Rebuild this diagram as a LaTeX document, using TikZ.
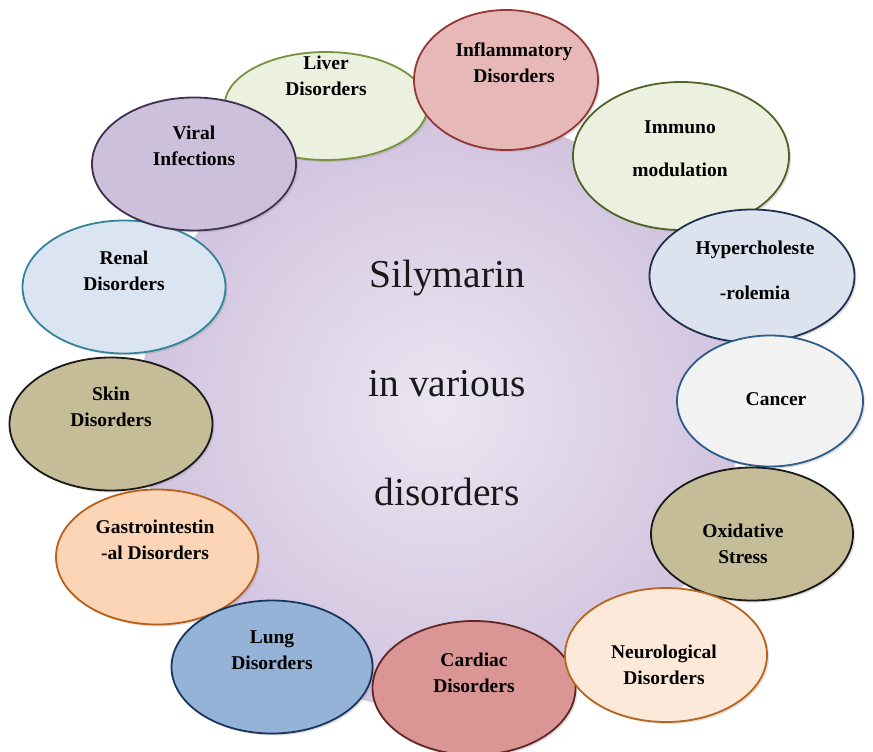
\documentclass[tikz,border=0pt]{standalone}
\usepackage{fontspec}
\setmainfont{Liberation Serif}
\usetikzlibrary{shapes.geometric,shadows}
\definecolor{liverF}{HTML}{EBF1DE}\definecolor{liverD}{HTML}{77933C}
\definecolor{inflF}{HTML}{E6B9B8}\definecolor{inflD}{HTML}{953735}
\definecolor{immF}{HTML}{EBF1DE}\definecolor{immD}{HTML}{4F6228}
\definecolor{hypF}{HTML}{DCE3EE}\definecolor{hypD}{HTML}{1F3150}
\definecolor{canF}{HTML}{F2F2F2}\definecolor{canD}{HTML}{2E5C8A}
\definecolor{oxiF}{HTML}{C4BD97}\definecolor{oxiD}{HTML}{1A1A1A}
\definecolor{neuF}{HTML}{FDE9D9}\definecolor{neuD}{HTML}{B7651E}
\definecolor{carF}{HTML}{D99694}\definecolor{carD}{HTML}{632523}
\definecolor{lunF}{HTML}{95B3D7}\definecolor{lunD}{HTML}{17375E}
\definecolor{gasF}{HTML}{FBD5B5}\definecolor{gasD}{HTML}{B85F1A}
\definecolor{skiF}{HTML}{C4BD97}\definecolor{skiD}{HTML}{1A1A1A}
\definecolor{renF}{HTML}{DBE5F1}\definecolor{renD}{HTML}{31849B}
\definecolor{virF}{HTML}{CCC0DA}\definecolor{virD}{HTML}{403152}
\definecolor{bgIn}{HTML}{EBE6F2}\definecolor{bgOut}{HTML}{D2C3DF}
\tikzset{
  oval/.style={ellipse, draw, line width=1.8pt, inner sep=0pt,
    drop shadow={shadow xshift=2pt, shadow yshift=-2pt, opacity=0.25}},
  lbl/.style={font=\bfseries\fontsize{19.5}{26}\selectfont, align=center, text=black},
  spaced/.style={font=\bfseries\fontsize{19.5}{43}\selectfont, align=center, text=black},
  title/.style={font=\fontsize{39.5}{109}\selectfont, align=center, text=black!90}
}
\begin{document}
\begin{tikzpicture}[x=1pt,y=-1pt]
\useasboundingbox (0,0) rectangle (873,752);
% background blob
\shade[inner color=bgIn, outer color=bgOut] (440,410) circle[radius=300];
% ellipses (order matters)
\node[oval, fill=skiF, draw=skiD, minimum width=203, minimum height=133] (skin) at (111,424) {};
\node[oval, fill=renF, draw=renD, minimum width=203, minimum height=133] (renal) at (124,287) {};
\node[oval, fill=liverF, draw=liverD, minimum width=203, minimum height=108] (liver) at (326,106) {};
\node[oval, fill=virF, draw=virD, minimum width=204, minimum height=133] (viral) at (194,164) {};
\node[oval, fill=immF, draw=immD, minimum width=216, minimum height=148] (immuno) at (681,156) {};
\node[oval, fill=inflF, draw=inflD, minimum width=184, minimum height=140] (infl) at (506,80) {};
\node[oval, fill=hypF, draw=hypD, minimum width=205, minimum height=133] (hyper) at (752,276) {};
\node[oval, fill=canF, draw=canD, minimum width=186, minimum height=131] (cancer) at (770,401) {};
\node[oval, fill=oxiF, draw=oxiD, minimum width=202, minimum height=133] (oxi) at (752,534) {};
\node[oval, fill=gasF, draw=gasD, minimum width=202, minimum height=135] (gastro) at (157,557) {};
\node[oval, fill=lunF, draw=lunD, minimum width=201, minimum height=133] (lung) at (272,667) {};
\node[oval, fill=carF, draw=carD, minimum width=203, minimum height=134] (cardiac) at (474,688) {};
\node[oval, fill=neuF, draw=neuD, minimum width=202, minimum height=134] (neuro) at (666,655) {};
% labels
\node[lbl] (tliver) at (326,76) {Liver\\Disorders};
\node[lbl] (tinfl) at (514,63) {Inflammatory\\Disorders};
\node[spaced] (timm) at (680,149) {Immuno\\modulation};
\node[spaced, font=\bfseries\fontsize{19.5}{45}\selectfont] (thyp) at (755,270) {Hypercholeste\\-rolemia};
\node[lbl] (tcan) at (776,399) {Cancer};
\node[lbl] (toxi) at (743,544) {Oxidative\\Stress};
\node[lbl] (tneu) at (664,665) {Neurological\\Disorders};
\node[lbl] (tcar) at (474,673) {Cardiac\\Disorders};
\node[lbl] (tlun) at (272,650) {Lung\\Disorders};
\node[lbl] (tgas) at (155,540) {Gastrointestin\\-al Disorders};
\node[lbl] (tski) at (111,407) {Skin\\Disorders};
\node[lbl] (tren) at (124,271) {Renal\\Disorders};
\node[lbl] (tvir) at (194,146) {Viral\\Infections};
% title
\node[title] (center) at (447,383) {Silymarin\\in various\\disorders};
\end{tikzpicture}
\end{document}
